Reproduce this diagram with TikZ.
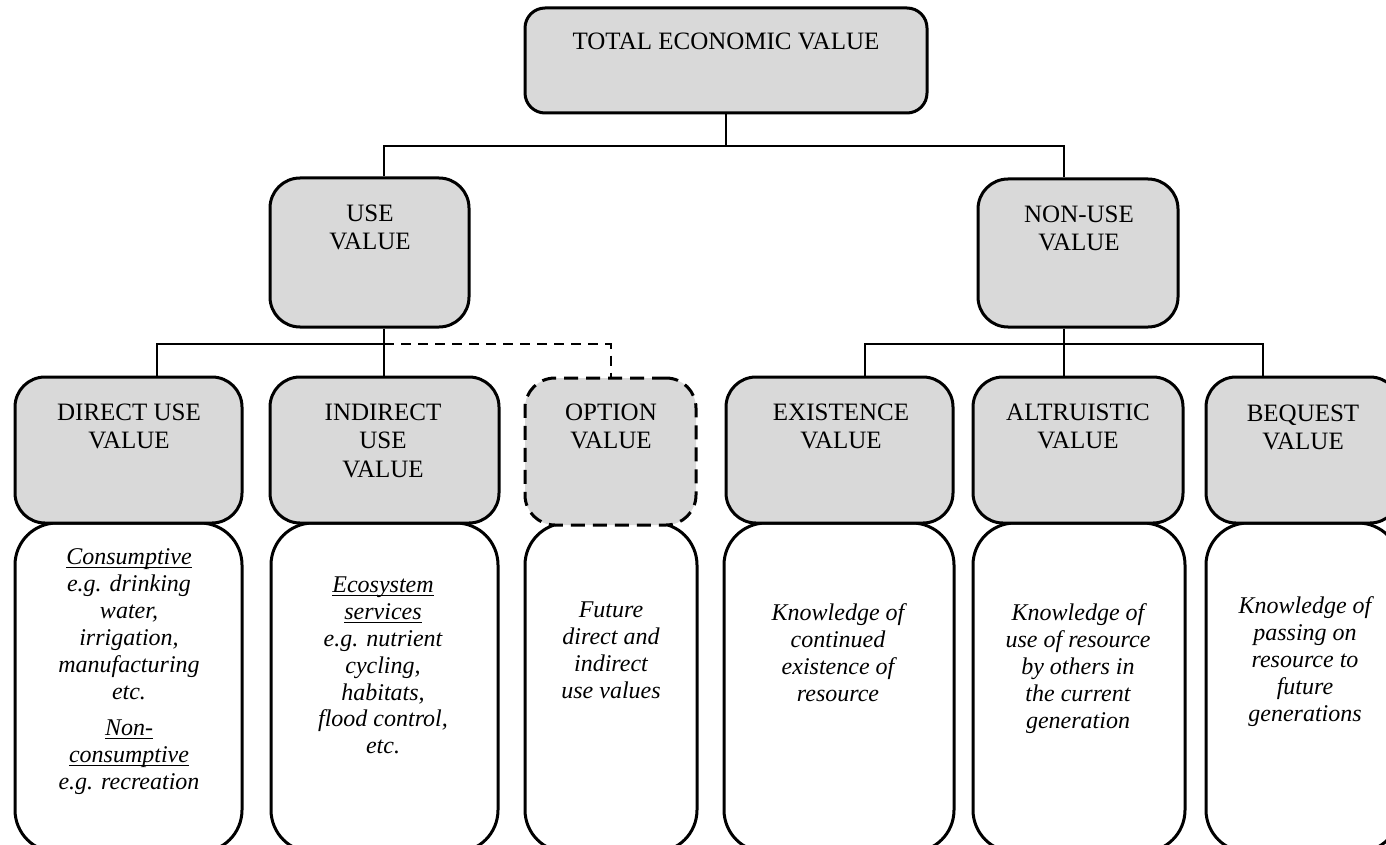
\documentclass[tikz,border=0pt]{standalone}
\usepackage{fontspec}
\setmainfont{Liberation Serif}
\definecolor{boxgray}{HTML}{D9D9D9}
\newcommand\ulx[1]{\begingroup\setbox0=\hbox{#1}\rlap{\rule[-3.5pt]{\wd0}{1.3pt}}\box0\endgroup}
\tikzset{
  head/.style={draw=black, line width=3pt, fill=boxgray, rounded corners=30pt, inner sep=0pt},
  topbox/.style={head, rounded corners=20pt},
  dashbox/.style={head, dash pattern=on 14pt off 8pt},
  descbox/.style={draw=black, line width=3pt, fill=white, rounded corners=42pt, inner sep=0pt},
  conn/.style={draw=black, line width=2pt},
  dconn/.style={conn, dash pattern=on 10pt off 7pt},
  captxt/.style={anchor=north, inner sep=0pt, align=center, font=\fontsize{25}{28.5}\selectfont},
  desctxt/.style={anchor=north, inner sep=0pt, align=center, font=\fontsize{24}{26.9}\selectfont\itshape},
}
\begin{document}
\begin{tikzpicture}[x=1pt, y=-1pt]
\useasboundingbox (0,0) rectangle (1386,845);
\clip (0,0) rectangle (1386,845);
% description boxes
\node[descbox, minimum width=227pt, minimum height=329pt] (dB) at (128.5,687.5) {};
\node[descbox, minimum width=227pt, minimum height=329pt] (iB) at (384.5,687.5) {};
\node[descbox, minimum width=172pt, minimum height=329pt] (oB) at (611,687.5) {};
\node[descbox, minimum width=230pt, minimum height=329pt] (eB) at (839,687.5) {};
\node[descbox, minimum width=212pt, minimum height=329pt] (aB) at (1079,687.5) {};
\node[descbox, minimum width=194pt, minimum height=329pt] (bB) at (1303,687.5) {};
% heading boxes
\node[topbox, minimum width=402pt, minimum height=105pt] (tev) at (726,60.5) {};
\node[head, minimum width=199pt, minimum height=149pt] (use) at (369.5,252.5) {};
\node[head, minimum width=200pt, minimum height=148pt] (nonuse) at (1078,253) {};
\node[head, minimum width=227pt, minimum height=146pt] (direct) at (128.5,450) {};
\node[head, minimum width=229pt, minimum height=146pt] (indirect) at (384.5,450) {};
\node[dashbox, minimum width=171pt, minimum height=147pt] (option) at (610.5,451.5) {};
\node[head, minimum width=227pt, minimum height=146pt] (exist) at (839.5,450) {};
\node[head, minimum width=210pt, minimum height=146pt] (altru) at (1078,450) {};
\node[head, minimum width=194pt, minimum height=146pt] (beq) at (1303,450) {};
% connectors
\coordinate (bus1) at (726,146);
\coordinate (bus2) at (384,344);
\coordinate (bus3) at (1064,344);
\draw[conn] (tev.south) -- (bus1);
\draw[conn] ([xshift=14.5pt]use.north) |- (bus1) -| ([xshift=-14pt]nonuse.north);
\draw[conn] ([xshift=14.5pt]use.south) -- (bus2);
\draw[conn] ([xshift=28.5pt]direct.north) |- (bus2) -- ([xshift=-0.5pt]indirect.north);
\draw[dconn] (bus2) -| (option.north);
\draw[conn] ([xshift=-14pt]nonuse.south) -- (bus3);
\draw[conn] ([xshift=25.5pt]exist.north) |- (bus3) -- ([xshift=-14pt]altru.north);
\draw[conn] (bus3) -| ([xshift=-40pt]beq.north);
% heading texts
\node[captxt] (tevT) at (726,32.5) {TOTAL ECONOMIC VALUE};
\node[captxt] (useT) at (370,204.5) {USE\\VALUE};
\node[captxt] (nonuseT) at (1079,205.5) {NON-USE\\VALUE};
\node[captxt] (directT) at (129,403.5) {DIRECT USE\\VALUE};
\node[captxt] (indirectT) at (383,403.5) {INDIRECT\\USE\\VALUE};
\node[captxt] (optionT) at (611,403.5) {OPTION\\VALUE};
\node[captxt] (existT) at (841,403.5) {EXISTENCE\\VALUE};
\node[captxt] (altruT) at (1078,403.5) {ALTRUISTIC\\VALUE};
\node[captxt] (beqT) at (1303,404.5) {BEQUEST\\VALUE};
% description texts
\node[desctxt] (dT) at (129,548.5) {\ulx{Consumptive}\\e.g. drinking\\water,\\irrigation,\\manufacturing\\etc.\\[10pt]\ulx{Non-}\\\ulx{consumptive}\\e.g. recreation};
\node[desctxt] (iT) at (383,576.5) {\ulx{Ecosystem}\\\ulx{services}\\e.g. nutrient\\cycling,\\habitats,\\flood control,\\etc.};
\node[desctxt] (oT) at (611,601.5) {Future\\direct and\\indirect\\use values};
\node[desctxt] (eT) at (838,603.5) {Knowledge of\\continued\\existence of\\resource};
\node[desctxt] (aT) at (1078,603.5) {Knowledge of\\use of resource\\by others in\\the current\\generation};
\node[desctxt] (bT) at (1305,596.5) {Knowledge of\\passing on\\resource to\\future\\generations};
\end{tikzpicture}
\end{document}
